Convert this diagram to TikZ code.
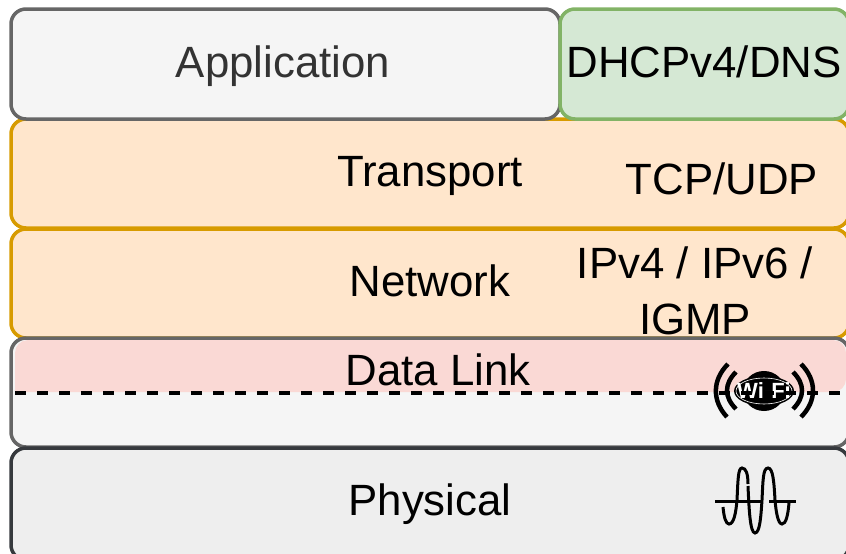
\documentclass[tikz,border=0pt]{standalone}
\usepackage{fontspec}
\setmainfont{Liberation Sans}
\definecolor{appfill}{HTML}{F5F5F5}
\definecolor{appline}{HTML}{666666}
\definecolor{dhcpfill}{HTML}{D5E8D4}
\definecolor{dhcpline}{HTML}{82B366}
\definecolor{tcpfill}{HTML}{FFE6CC}
\definecolor{tcpline}{HTML}{D79B00}
\definecolor{linkfill}{HTML}{FAD9D5}
\definecolor{physfill}{HTML}{EEEEEE}
\definecolor{physline}{HTML}{36393D}
\definecolor{labelgray}{HTML}{333333}
\tikzset{
  layerbox/.style={line width=3.5pt, rounded corners=15pt},
  layertext/.style={inner sep=0pt, anchor=base, font=\fontsize{43.8}{56}\selectfont},
  iconline/.style={black, line width=4.5pt},
  waveline/.style={black, line width=3pt}
}

\begin{document}
\begin{tikzpicture}[x=1pt, y=-1pt]
\useasboundingbox (0,0) rectangle (846,554);
\clip (0,0) rectangle (846,554);

% layers
\filldraw[layerbox, draw=tcpline, fill=tcpfill] (11,119) rectangle (849,228);
\filldraw[layerbox, draw=tcpline, fill=tcpfill] (11,229) rectangle (849,338);
\fill[layerbox, fill=appfill] (11,338) rectangle (849,447);
\fill[linkfill] (15,392) [rounded corners=13pt] -- (15,340) -- (846,340) -- (846,392) [sharp corners] -- cycle;
\draw[layerbox, draw=appline] (11,338) rectangle (849,447);
\filldraw[layerbox, draw=physline, fill=physfill] (11,448) rectangle (849,560);
\filldraw[layerbox, draw=appline, fill=appfill] (11,9) rectangle (560,119);
\filldraw[layerbox, draw=dhcpline, fill=dhcpfill] (560,9) rectangle (849,119);

% labels
\node[layertext, text=labelgray] (application) at (283,77) {Application};
\node[layertext] (dhcp) at (704,77) {DHCPv4/DNS};
\node[layertext] (transport) at (430,186) {Transport};
\node[layertext] (tcpudp) at (722,194) {TCP/UDP};
\node[layertext] (network) at (430,296) {Network};
\node[layertext, anchor=center, align=center] (ipstack) at (695,291) {IPv4 / IPv6 /\\IGMP};
\node[layertext] (datalink) at (438,385) {Data Link};
\node[layertext] (physical) at (430,515) {Physical};

% wifi icon
\fill[black] (764,391) ellipse [x radius=30, y radius=15];
\fill[black] (764,391) ellipse [x radius=21, y radius=20];
\draw[white, line width=0.6pt] (764,391) ellipse [x radius=28, y radius=13];
\node[inner sep=0pt, text=white, font=\fontsize{22}{22}\selectfont\bfseries] (wifi) at (764,391) {Wi-Fi};
\draw[iconline] (728,364) .. controls (712,380) and (712,401) .. (727,417);
\draw[iconline] (736,372) .. controls (724,384) and (724,397) .. (736,409);
\draw[iconline] (801,364) .. controls (817,380) and (817,401) .. (801,417);
\draw[iconline] (793,372) .. controls (805,384) and (805,397) .. (793,409);

% dashed split
\draw[black, line width=3.5pt, dash pattern=on 11pt off 11pt] (15,393) -- (846,393);

% wave icon
\draw[waveline] (715,501) -- (762,501);
\draw[waveline] (769,501) -- (796,501);
\draw[waveline] (723,507) .. controls (724,518) and (726,524) .. (729,524) .. controls (734,524) and (736,512) .. (737,500) .. controls (738,480) and (738,468) .. (742,468) .. controls (746,468) and (748,474) .. (748,484);
\draw[waveline] (748,486) .. controls (749,508) and (750,533) .. (755,533) .. controls (760,533) and (761,515) .. (762,500) .. controls (763,480) and (763,468) .. (768,468) .. controls (773,468) and (774,482) .. (775,500) .. controls (776,512) and (778,524) .. (782,524) .. controls (786,524) and (788,515) .. (789,503);
\end{tikzpicture}
\end{document}
